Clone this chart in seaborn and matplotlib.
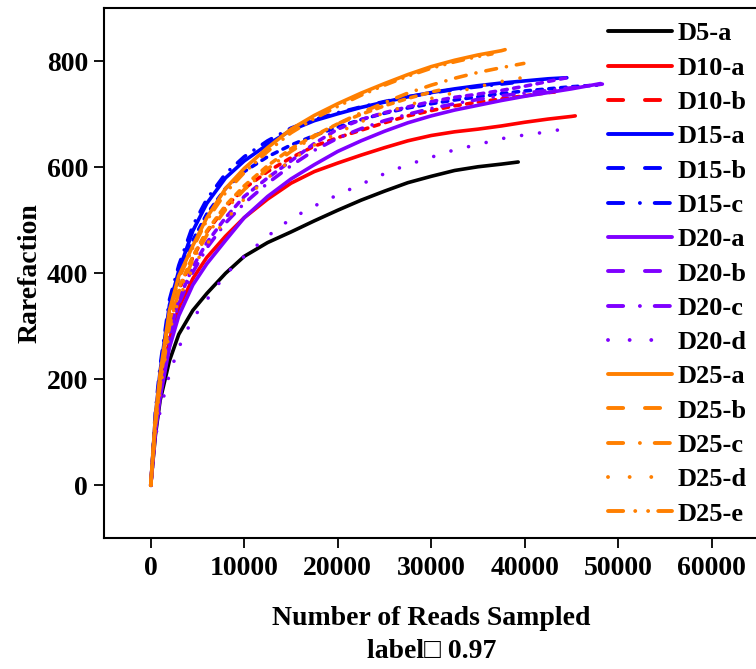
import numpy as np
import pandas as pd
import matplotlib
matplotlib.use('Agg')
import matplotlib.pyplot as plt
from matplotlib.lines import Line2D
import seaborn as sns

# rarefaction curves (reads sampled vs OTUs)
depth = [0, 500, 1000, 2000, 3000, 4500, 6000, 8000, 10000, 12500, 15000, 17500,
         20000, 22500, 25000, 27500, 30000, 32500, 35000, 37500, 40000, 42500, 45000, 47500]

samples = ['D5-a', 'D10-a', 'D10-b', 'D15-a', 'D15-b', 'D15-c', 'D20-a', 'D20-b',
           'D20-c', 'D20-d', 'D25-a', 'D25-b', 'D25-c', 'D25-d', 'D25-e']

d5_a = [0, 95, 160, 235, 285, 330, 362, 400, 432, 458, 478, 499, 519, 538, 555, 571, 583, 594, 601, 606]
d10_a = [0, 110, 180, 275, 335, 390, 430, 470, 505, 540, 570, 592, 608, 623, 637, 650, 660, 667, 672, 678, 685, 691, 696]
d10_b = [0, 120, 195, 300, 368, 430, 478, 525, 560, 592, 618, 640, 656, 670, 684, 697, 707, 716, 723, 729, 735, 741]
d15_a = [0, 130, 215, 340, 405, 480, 532, 580, 612, 643, 670, 688, 701, 713, 723, 733, 741, 748, 754, 759, 763, 767]
d15_b = [0, 125, 205, 325, 390, 462, 512, 560, 592, 620, 642, 660, 676, 690, 702, 712, 720, 727, 733, 739, 744, 748, 752]
d15_c = [0, 140, 225, 350, 415, 490, 540, 588, 620, 650, 674, 690, 703, 714, 724, 733, 740, 747, 752, 757]
d20_a = [0, 100, 165, 260, 320, 378, 418, 462, 505, 545, 578, 605, 630, 650, 668, 684, 697, 708, 717, 726, 734, 741, 748, 756]
d20_b = [0, 115, 185, 285, 350, 412, 458, 505, 545, 580, 612, 645, 672, 690, 703, 714, 724, 732, 738, 745, 753, 762]
d20_c = [0, 112, 180, 280, 343, 402, 448, 495, 532, 570, 603, 632, 655, 673, 688, 700, 711, 720, 728, 735, 740, 745, 750, 755]
d20_d = [0, 90, 140, 210, 260, 315, 350, 398, 432, 470, 503, 527, 548, 568, 588, 605, 619, 633, 643, 654, 661, 667]
d25_a = [0, 130, 210, 330, 395, 452, 505, 560, 598, 637, 672, 698, 720, 740, 758, 775, 790, 802, 812, 820]
d25_b = [0, 118, 195, 310, 372, 432, 480, 528, 565, 603, 635, 660, 682, 700, 716, 730, 742]
d25_c = [0, 115, 190, 300, 365, 425, 472, 520, 558, 597, 630, 658, 682, 703, 722, 740, 755, 768, 779, 788]
d25_d = [0, 110, 180, 290, 352, 410, 455, 500, 540, 580, 613, 642, 665, 686, 703, 717, 730, 741, 752, 762, 770]
d25_e = [0, 125, 205, 325, 390, 448, 500, 552, 590, 630, 665, 692, 715, 736, 755, 772, 787, 799, 809]

# last point of each curve (max depth, richness)
end_depth = [39300, 45400, 43200, 44500, 47700, 39000, 48100, 44500, 48300, 44700, 37900, 31500, 39900, 41100, 36500]
end_value = [610, 697, 742, 769, 755, 760, 758, 769, 757, 674, 822, 748, 796, 775, 814]

curves = [d5_a, d10_a, d10_b, d15_a, d15_b, d15_c, d20_a, d20_b, d20_c, d20_d,
          d25_a, d25_b, d25_c, d25_d, d25_e]

colors = ['black', '#FF0000', '#FF0000', '#0000FF', '#0000FF', '#0000FF',
          '#7F00FF', '#7F00FF', '#7F00FF', '#7F00FF',
          '#FF7F00', '#FF7F00', '#FF7F00', '#FF7F00', '#FF7F00']
kinds = ['solid', 'solid', 'dash', 'solid', 'dash', 'dashdot', 'solid', 'dash',
         'dashdot', 'dot', 'solid', 'dash', 'dashdot', 'dot', 'dashdotdot']

plot_dash = {'solid': '', 'dash': (1.5, 1.8), 'dashdot': (3, 2.8, 0.01, 2.8),
             'dot': (0.01, 5.0), 'dashdotdot': (3, 2.3, 0.01, 2.3, 0.01, 2.3)}
legend_dash = {'dash': (3.9, 5.6), 'dashdot': (3.9, 4.3, 0.01, 3.8),
               'dot': (0.01, 5.55), 'dashdotdot': (3.9, 3.1, 0.01, 3.3, 0.01, 2.6)}

rows = []
for name, vals, xe, ye in zip(samples, curves, end_depth, end_value):
    for d, v in zip(depth, vals):
        rows.append((name, d, v))
    rows.append((name, xe, ye))
df = pd.DataFrame(rows, columns=['sample', 'depth', 'richness'])

sns.set_style('ticks')
plt.rcParams['font.family'] = ['Liberation Serif', 'DejaVu Serif']
plt.rcParams['font.weight'] = 'bold'
plt.rcParams['axes.labelweight'] = 'bold'
plt.rcParams['text.color'] = 'black'
plt.rcParams['axes.labelcolor'] = 'black'
plt.rcParams['axes.edgecolor'] = 'black'
plt.rcParams['xtick.color'] = 'black'
plt.rcParams['ytick.color'] = 'black'
plt.rcParams['lines.dash_capstyle'] = 'round'
plt.rcParams['lines.solid_capstyle'] = 'round'

fig = plt.figure(figsize=(7.56, 6.69), dpi=100)
ax = fig.add_axes([104 / 756, (669 - 538.3) / 669, 654.5 / 756, 530 / 669])

palette = dict(zip(samples, colors))
dashes = {s: plot_dash[k] for s, k in zip(samples, kinds)}
sns.lineplot(data=df, x='depth', y='richness', hue='sample', style='sample',
             hue_order=samples, style_order=samples, palette=palette, dashes=dashes,
             estimator=None, sort=False, lw=2.6, legend=False, ax=ax)

ax.set_xlim(-5000, 65000)
ax.set_ylim(-100, 900)
ax.set_xticks([0, 10000, 20000, 30000, 40000, 50000, 60000])
ax.set_yticks([0, 200, 400, 600, 800])
ax.tick_params(labelsize=20, length=7.5, width=1.3, direction='out')
ax.tick_params(axis='x', pad=5)
ax.tick_params(axis='y', pad=4)
for sp in ax.spines.values():
    sp.set_linewidth(1.5)

ax.set_xlabel('Number of Reads Sampled\nlabel\u25a1 0.97', fontsize=20,
              labelpad=18, linespacing=1.45)
ax.set_ylabel('Rarefaction', fontsize=20, labelpad=3)

handles = []
for s, c, k in zip(samples, colors, kinds):
    h = Line2D([0], [0], color=c, lw=2.8)
    if k != 'solid':
        h.set_dashes(legend_dash[k])
    handles.append(h)
ax.legend(handles, samples, loc='upper left', bbox_to_anchor=(608 / 756, 1 - 22 / 669),
          bbox_transform=fig.transFigure, frameon=False, fontsize=19,
          borderaxespad=0, borderpad=0, handlelength=2.42, handletextpad=0.22,
          labelspacing=0.41)

fig.savefig('out.png', dpi=100)
